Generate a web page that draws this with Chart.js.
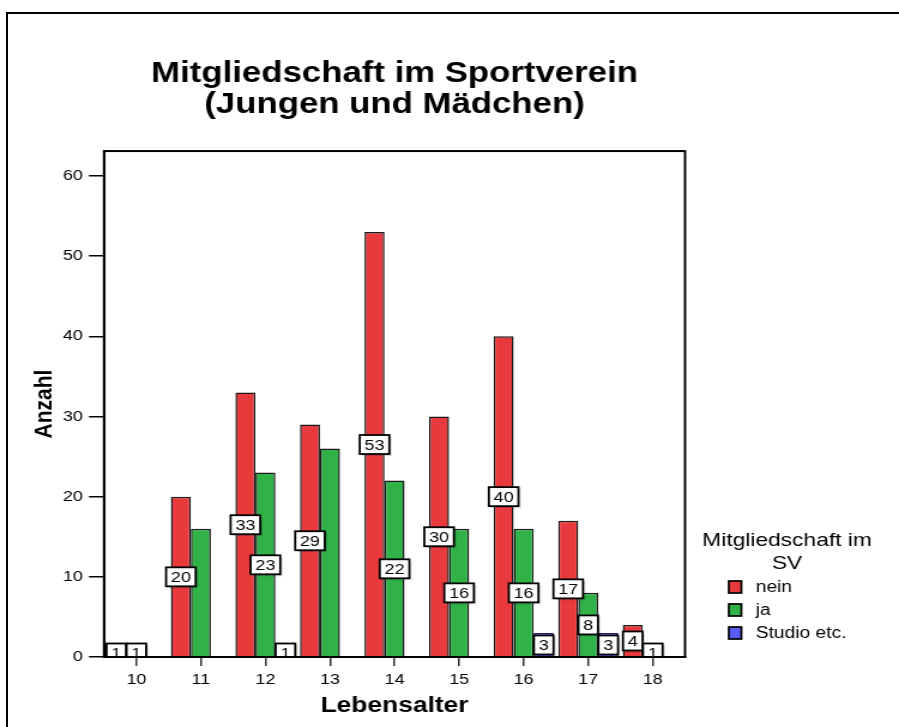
<!DOCTYPE html>
<html><head><meta charset="utf-8">
<script src="https://cdn.jsdelivr.net/npm/chart.js@4.4.1/dist/chart.umd.min.js"></script>
<style>
html,body{margin:0;padding:0;background:#fff;overflow:hidden;width:899px;height:727px}
#frame{position:absolute;left:6px;top:12px;width:1000px;height:1000px;border-left:2px solid #000;border-top:2px solid #000;}
#wrap{position:absolute;left:0;top:0;width:750px;height:727px;transform:scaleX(1.19867);transform-origin:0 0;}
canvas{display:block}
</style></head><body>
<div id="frame"></div>
<div id="wrap"><canvas id="c" width="750" height="727"></canvas></div>
<script>
const categories = ['10','11','12','13','14','15','16','17','18'];
const neinValues = [1,20,33,29,53,30,40,17,4];
const jaValues = [1,16,23,26,22,16,16,8,1];
const studioValues = [null,null,1,null,null,null,3,3,null];
const seriesNames = ['nein','ja','Studio etc.'];
const yTicks = [0,10,20,30,40,50,60];
const titleLines = ['Mitgliedschaft im Sportverein','(Jungen und Mädchen)'];
const legendTitleLines = ['Mitgliedschaft im','SV'];
const xTitle = 'Lebensalter';
const yTitle = 'Anzahl';
const hiddenLabels = [[1,1],[1,3]]; // [series index, category index] shown without a value box

const FONT = "'Liberation Sans', Arial, sans-serif";
const colors = ['#e8393d','#30b249','#5a5cf5'];
const borders = ['#1a1a1a','#1a1a1a','#1c1c5c'];

const labelPlugin = {
  id: 'valueBoxes',
  afterDatasetsDraw(chart) {
    const ctx = chart.ctx, ca = chart.chartArea, ys = chart.scales.y;
    ctx.save();
    ctx.beginPath();
    ctx.rect(ca.left, ca.top, ca.right - ca.left, ca.bottom - ca.top);
    ctx.clip();
    ctx.font = '15px ' + FONT;
    ctx.textAlign = 'center';
    ctx.textBaseline = 'middle';
    chart.data.datasets.forEach((ds, di) => {
      const meta = chart.getDatasetMeta(di);
      meta.data.forEach((el, i) => {
        const v = ds.data[i];
        if (v === null || v === undefined) return;
        if (hiddenLabels.some(h => h[0] === di && h[1] === i)) return;
        const txt = String(v);
        const w = ctx.measureText(txt).width + 8;
        const h = 19;
        const cy = ys.getPixelForValue(v / 2);
        const x0 = el.x - w / 2, y0 = cy - h / 2;
        ctx.fillStyle = 'rgba(0,0,0,0.15)';
        ctx.fillRect(x0 + 2, y0 + 2, w, h);
        ctx.fillStyle = '#fff';
        ctx.fillRect(x0, y0, w, h);
        ctx.lineWidth = 1.8;
        ctx.strokeStyle = '#000';
        ctx.strokeRect(x0, y0, w, h);
        ctx.fillStyle = '#000';
        ctx.fillText(txt, el.x, cy + 1);
      });
    });
    ctx.restore();
    // plot frame
    ctx.save();
    ctx.strokeStyle = '#000';
    ctx.lineWidth = 2;
    ctx.strokeRect(ca.left, ca.top, ca.right - ca.left, ca.bottom - ca.top);
    ctx.restore();
  }
};

const legendPlugin = {
  id: 'customLegend',
  afterDraw(chart) {
    const ctx = chart.ctx;
    ctx.save();
    ctx.fillStyle = '#000';
    ctx.textBaseline = 'middle';
    ctx.textAlign = 'center';
    ctx.font = '19px ' + FONT;
    legendTitleLines.forEach((t, i) => ctx.fillText(t, 656.6, 541 + i * 22.5));
    ctx.textAlign = 'left';
    ctx.font = '16px ' + FONT;
    chart.data.datasets.forEach((ds, i) => {
      const y = 587 + i * 23;
      ctx.fillStyle = ds.backgroundColor;
      ctx.fillRect(608, y - 6, 10.5, 12);
      ctx.strokeStyle = '#000';
      ctx.lineWidth = 1.7;
      ctx.strokeRect(608, y - 6, 10.5, 12);
      ctx.fillStyle = '#000';
      ctx.fillText(ds.label, 630.5, y + 1);
    });
    ctx.restore();
  }
};

const mk = (i, data) => ({
  label: seriesNames[i], data,
  backgroundColor: colors[i], borderColor: borders[i], borderWidth: 1.5,
  categoryPercentage: 0.93, barPercentage: 1.0
});

new Chart(document.getElementById('c'), {
  type: 'bar',
  data: {
    labels: categories,
    datasets: [mk(0, neinValues), mk(1, jaValues), mk(2, studioValues)]
  },
  options: {
    responsive: false,
    animation: false,
    devicePixelRatio: 1,
    layout: { padding: { left: 0, right: 178.5, top: 0, bottom: 0 } },
    plugins: {
      legend: { display: false },
      tooltip: { enabled: false },
      title: {
        display: true, text: titleLines, color: '#000', fullSize: false,
        font: { family: FONT, size: 29, weight: 'bold', lineHeight: 1.07 },
        padding: { top: 58.5, bottom: 30.5 }
      }
    },
    scales: {
      x: {
        grid: { display: true, offset: false, drawOnChartArea: false, drawTicks: true, tickLength: 9, color: '#333', lineWidth: 1.5 },
        border: { display: true, color: '#000', width: 2 },
        ticks: { color: '#000', font: { family: FONT, size: 15 }, padding: 5 },
        title: { display: true, text: xTitle, color: '#000', font: { family: FONT, size: 22, weight: 'bold' }, padding: { top: 0, bottom: 8 } },
        afterFit(s) { s.height = 70; }
      },
      y: {
        min: 0, max: 63.1,
        grid: { display: true, drawOnChartArea: false, drawTicks: true, tickLength: 12.6, color: '#000', lineWidth: 1.5 },
        border: { display: true, color: '#000', width: 2 },
        ticks: { stepSize: 10, color: '#000', font: { family: FONT, size: 15 }, padding: 5 },
        afterBuildTicks(s) { s.ticks = yTicks.map(v => ({ value: v })); },
        title: { display: true, text: yTitle, color: '#000', font: { family: FONT, size: 21, weight: 'bold' }, padding: { top: 24.7, bottom: 0 } },
        afterFit(s) { s.width = 86.8; }
      }
    }
  },
  plugins: [labelPlugin, legendPlugin]
});
</script>
</body></html>
